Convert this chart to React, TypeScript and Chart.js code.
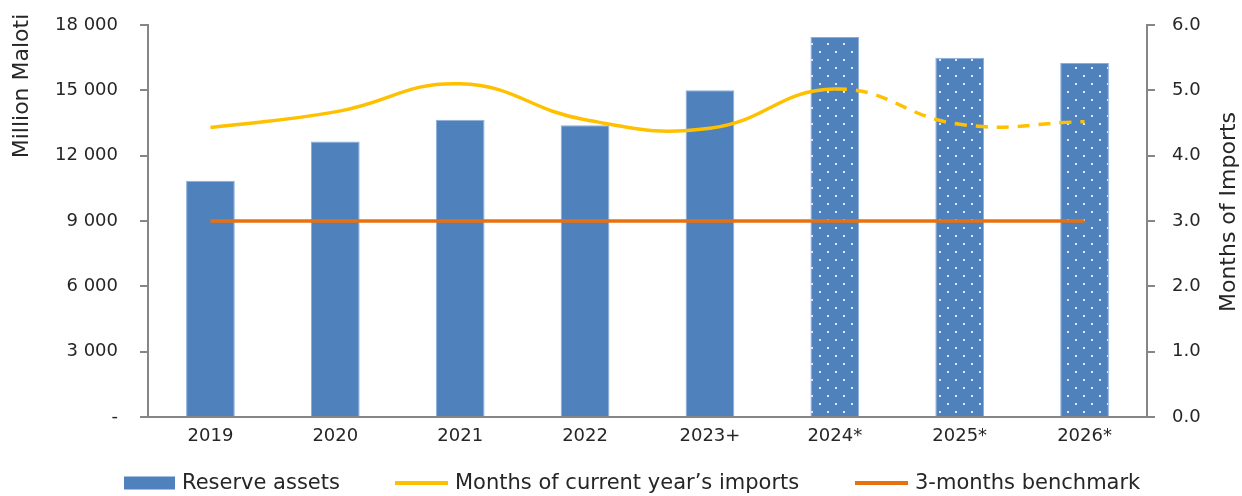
import React, { useEffect, useRef } from "react";
import { Chart, registerables } from "chart.js";

Chart.register(...registerables);

const categories = ["2019", "2020", "2021", "2022", "2023+", "2024*", "2025*", "2026*"];
const reserveAssets = [10850, 12650, 13650, 13400, 15000, 17450, 16500, 16250];
const monthsOfImports = [4.43, 4.67, 5.1, 4.55, 4.42, 5.02, 4.48, 4.52];
const benchmark = [3, 3, 3, 3, 3, 3, 3, 3];
const projectedFrom = 5; // index of first projected year
const leftTicks = [0, 3000, 6000, 9000, 12000, 15000, 18000];
const rightTicks = [0, 1, 2, 3, 4, 5, 6];
const seriesLabels = ["Reserve assets", "Months of current year\u2019s imports", "3-months benchmark"];
const leftTitle = "Million Maloti";
const rightTitle = "Months of Imports";

const BLUE = "#4F81BD";
const YELLOW = "#FFC000";
const ORANGE = "#E8710F";
const AXIS = "#868686";
const TEXT = "#262626";
const FONT = "'DejaVu Sans', 'Noto Sans', sans-serif";

function makePattern(): CanvasPattern | string {
  const c = document.createElement("canvas");
  c.width = 16;
  c.height = 16;
  const ctx = c.getContext("2d");
  if (!ctx) return BLUE;
  ctx.fillStyle = BLUE;
  ctx.fillRect(0, 0, 16, 16);
  ctx.fillStyle = "#ffffff";
  ctx.beginPath();
  ctx.arc(4, 4, 1.1, 0, Math.PI * 2);
  ctx.arc(12, 12, 1.1, 0, Math.PI * 2);
  ctx.fill();
  const p = ctx.createPattern(c, "repeat");
  return p || BLUE;
}

function fmtThousands(v: number): string {
  if (v === 0) return "-";
  return String(Math.round(v)).replace(/\B(?=(\d{3})+(?!\d))/g, " ");
}

// Draws the legend row and the two rotated axis titles.
const decorPlugin = {
  id: "decor",
  afterDraw(chart: any) {
    const ctx = chart.ctx as CanvasRenderingContext2D;
    ctx.save();
    ctx.fillStyle = TEXT;
    ctx.font = `22px ${FONT}`;
    ctx.textAlign = "center";
    ctx.textBaseline = "middle";
    ctx.save();
    ctx.translate(22, 86);
    ctx.rotate(-Math.PI / 2);
    ctx.fillText(leftTitle, 0, 0);
    ctx.restore();
    ctx.save();
    ctx.translate(1229, 212);
    ctx.rotate(-Math.PI / 2);
    ctx.fillText(rightTitle, 0, 0);
    ctx.restore();

    const y = 483;
    const starts = [124, 395, 855];
    const swatchW = [51, 53, 53];
    ctx.font = `21px ${FONT}`;
    ctx.textAlign = "left";
    chart.data.datasets.forEach((ds: any, i: number) => {
      const x = starts[i];
      if (i === 0) {
        ctx.fillStyle = BLUE;
        ctx.fillRect(x, y - 6.5, swatchW[i], 13);
      } else {
        ctx.strokeStyle = i === 1 ? YELLOW : ORANGE;
        ctx.lineWidth = 4;
        ctx.lineCap = "butt";
        ctx.beginPath();
        ctx.moveTo(x, y);
        ctx.lineTo(x + swatchW[i], y);
        ctx.stroke();
      }
      ctx.fillStyle = TEXT;
      ctx.fillText(ds.label, x + swatchW[i] + 7, y + 1);
    });
    ctx.restore();
  },
};

export default function App() {
  const ref = useRef<HTMLCanvasElement | null>(null);

  useEffect(() => {
    document.body.style.margin = "0";
    if (!ref.current) return;
    const pattern = makePattern();
    const barColors = reserveAssets.map((_, i) => (i >= projectedFrom ? pattern : BLUE));

    const chart = new Chart(ref.current, {
      type: "bar",
      data: {
        labels: categories,
        datasets: [
          {
            type: "bar",
            label: seriesLabels[0],
            data: reserveAssets,
            backgroundColor: barColors as any,
            borderColor: "#8AAEDB",
            borderWidth: 1,
            categoryPercentage: 1,
            barPercentage: 0.39,
            yAxisID: "y",
            order: 2,
          },
          {
            type: "line",
            label: seriesLabels[1],
            data: monthsOfImports,
            borderColor: YELLOW,
            backgroundColor: YELLOW,
            borderWidth: 3.5,
            pointRadius: 0,
            tension: 0.45,
            yAxisID: "y1",
            order: 1,
            segment: {
              borderDash: (ctx: any) => (ctx.p0DataIndex >= projectedFrom ? [12, 9] : undefined),
            },
          } as any,
          {
            type: "line",
            label: seriesLabels[2],
            data: benchmark,
            borderColor: ORANGE,
            backgroundColor: ORANGE,
            borderWidth: 3.5,
            pointRadius: 0,
            tension: 0,
            yAxisID: "y1",
            order: 0,
          },
        ],
      },
      options: {
        animation: false,
        responsive: true,
        maintainAspectRatio: false,
        layout: { padding: { top: 25, right: 0, left: 0, bottom: 39 } },
        plugins: {
          tooltip: { enabled: false },
          legend: { display: false },
        },
        scales: {
          x: {
            afterFit: (scale: any) => {
              scale.height = 40;
            },
            grid: { display: false, drawTicks: false },
            border: { display: true, color: AXIS, width: 2 },
            ticks: { color: TEXT, font: { family: FONT, size: 18 }, padding: 9 },
          },
          y: {
            position: "left",
            min: 0,
            max: 18000,
            afterBuildTicks: (scale: any) => {
              scale.ticks = leftTicks.map((v) => ({ value: v }));
            },
            afterFit: (scale: any) => {
              scale.width = 148;
              scale.paddingTop = 0;
              scale.paddingBottom = 0;
            },
            grid: { drawOnChartArea: false, drawTicks: true, tickLength: 8, color: AXIS, lineWidth: 2 },
            border: { display: true, color: AXIS, width: 2 },
            ticks: {
              color: TEXT,
              font: { family: FONT, size: 18 },
              padding: 22,
              callback: (v: any) => fmtThousands(Number(v)),
            },
          },
          y1: {
            position: "right",
            min: 0,
            max: 6,
            afterBuildTicks: (scale: any) => {
              scale.ticks = rightTicks.map((v) => ({ value: v }));
            },
            afterFit: (scale: any) => {
              scale.width = 95;
              scale.paddingTop = 0;
              scale.paddingBottom = 0;
            },
            grid: { drawOnChartArea: false, drawTicks: true, tickLength: 8, color: AXIS, lineWidth: 2 },
            border: { display: true, color: AXIS, width: 2 },
            ticks: {
              color: TEXT,
              font: { family: FONT, size: 18 },
              padding: 17,
              callback: (v: any) => Number(v).toFixed(1),
            },
          },
        },
      } as any,
      plugins: [decorPlugin],
    });
    return () => chart.destroy();
  }, []);

  return (
    <div style={{ width: 1242, height: 496, position: "relative" }}>
      <canvas ref={ref} />
    </div>
  );
}
